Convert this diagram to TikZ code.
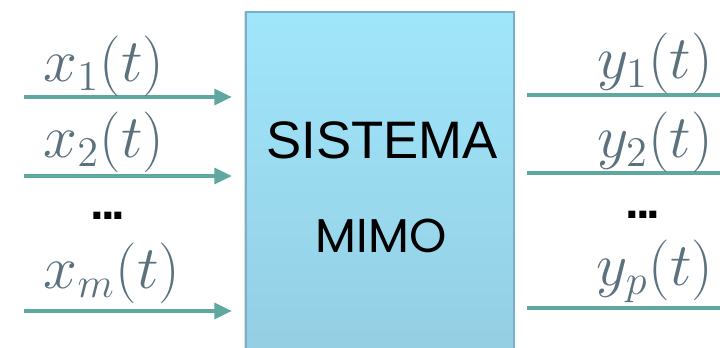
\documentclass[tikz,border=0pt]{standalone}
\usepackage{fontspec}
\setmainfont{Liberation Sans}
\newfontfamily\geofont{Poppins}
\usetikzlibrary{arrows.meta,shadows}
\definecolor{arrcol}{HTML}{5FA8A0}
\definecolor{labcol}{HTML}{5B717E}
\definecolor{boxtop}{HTML}{A0E6FB}
\definecolor{boxbot}{HTML}{93CDE2}
\definecolor{boxline}{HTML}{78AEC6}
\tikzset{
  sig/.style={draw=arrcol, line width=1.2pt, -{Triangle[length=5pt,width=4.4pt]}},
  lab/.style={text=labcol, font=\fontsize{16.5}{20}\selectfont, inner sep=0pt},
  dots/.style={font=\fontsize{14}{16}\selectfont\bfseries, inner sep=0pt},
  sysbox/.style={draw=boxline, line width=0.6pt, top color=boxtop, bottom color=boxbot,
     inner sep=0pt, minimum width=268*0.01cm, minimum height=360*0.01cm,
     drop shadow={shadow xshift=-0.6pt, shadow yshift=0pt, opacity=0.25}}
}
\begin{document}
\begin{tikzpicture}[x=0.01cm, y=-0.01cm]
\useasboundingbox (0,0) rectangle (720,348);
\clip (0,0) rectangle (720,348);
% system box
\node[sysbox, anchor=north west] (sys) at (245,11) {};
\node[font=\fontsize{15}{18}\selectfont, inner sep=0pt] (t1) at (382,140) {SISTEMA};
\node[font=\fontsize{13.5}{16}\selectfont\geofont, inner sep=0pt] (t2) at (381,236) {MIMO};
% input coordinates
\coordinate (a1) at (24,97);   \coordinate (b1) at (232,97);
\coordinate (a2) at (24,176);  \coordinate (b2) at (232,176);
\coordinate (a3) at (24,311);  \coordinate (b3) at (232,311);
\draw[sig] (a1) -- (b1);
\draw[sig] (a2) -- (b2);
\draw[sig] (a3) -- (b3);
\node[lab] (lx1) at (104,66) {$x_1(t)$};
\node[lab] (lx2) at (104,142) {$x_2(t)$};
\node[dots] (ld) at (108,216) {.\kern-1pt.\kern-1pt.};
\node[lab] (lxm) at (112,273) {$x_m(t)$};
% output coordinates
\coordinate (c1) at (527,95);   \coordinate (d1) at (738,95);
\coordinate (c2) at (527,173);  \coordinate (d2) at (738,173);
\coordinate (c3) at (527,308);  \coordinate (d3) at (738,308);
\draw[sig] (c1) -- (d1);
\draw[sig] (c2) -- (d2);
\draw[sig] (c3) -- (d3);
\node[lab] (ly1) at (655,63) {$y_1(t)$};
\node[lab] (ly2) at (655,142) {$y_2(t)$};
\node[dots] (rd) at (643,215) {.\kern-1pt.\kern-1pt.};
\node[lab] (lyp) at (655,271) {$y_p(t)$};
\end{tikzpicture}
\end{document}
